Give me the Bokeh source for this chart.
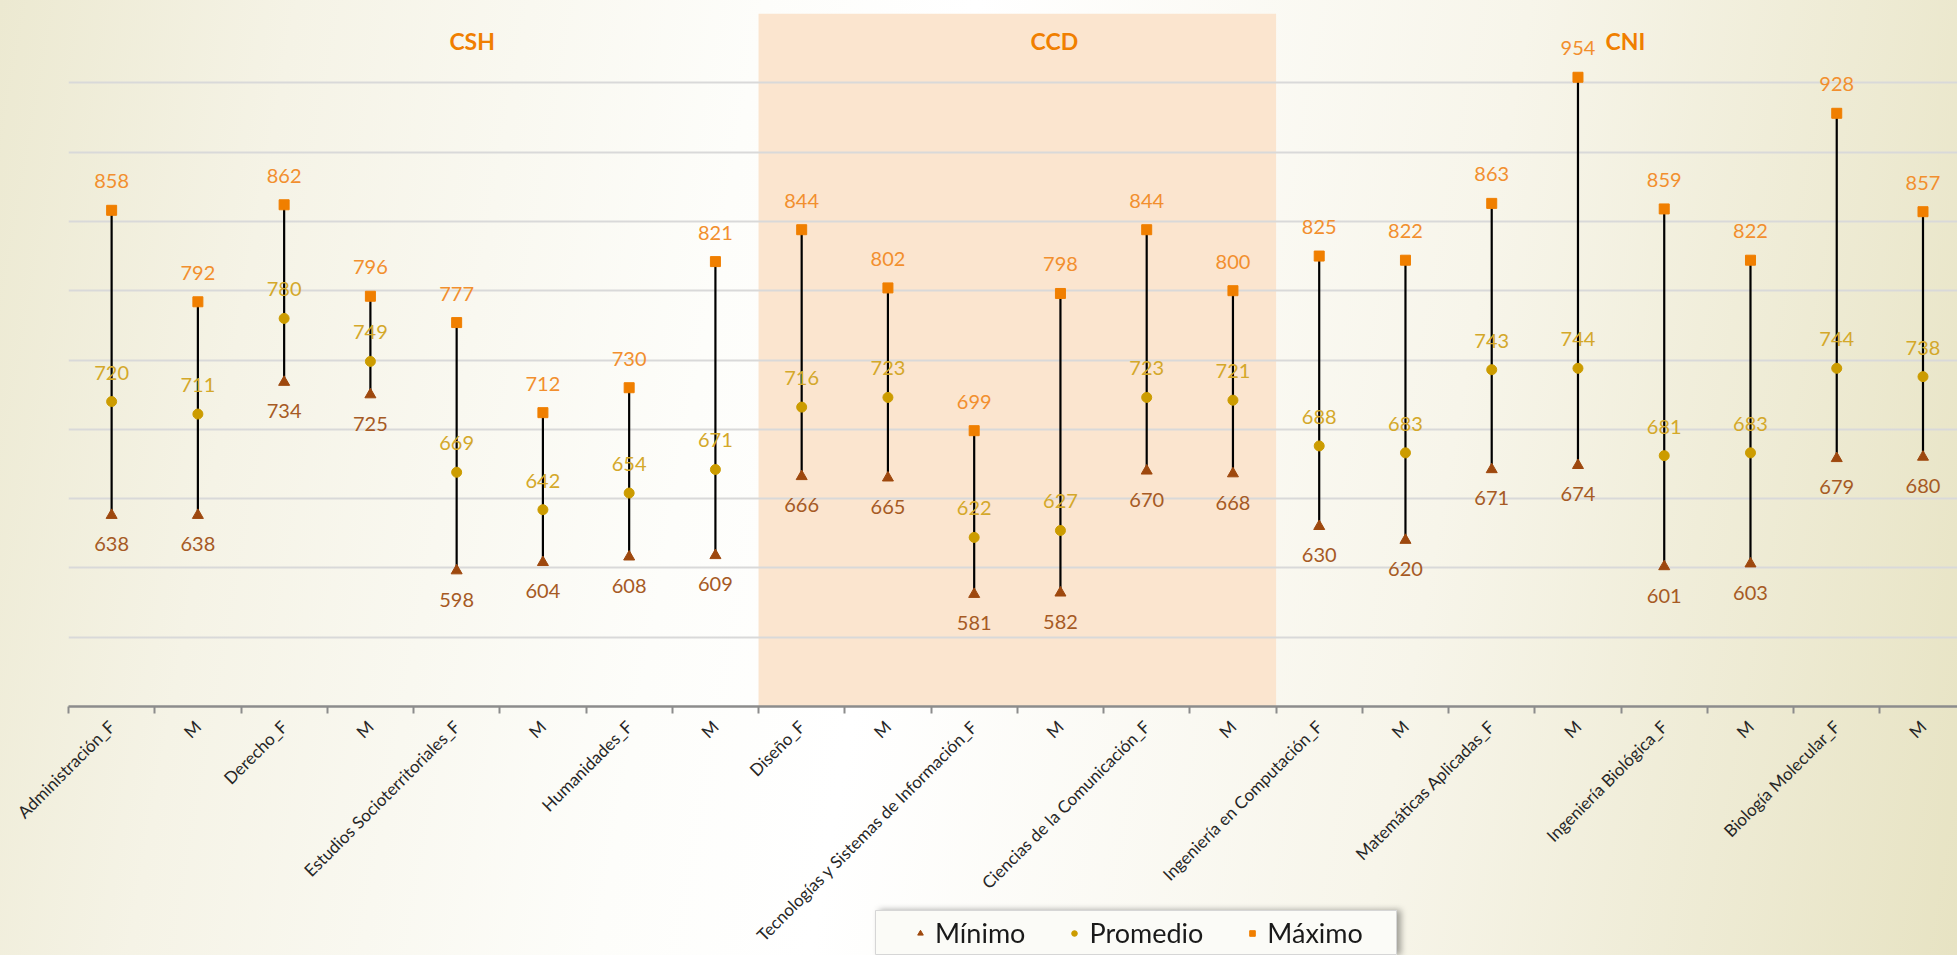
import math
from bokeh.plotting import figure
from bokeh.layouts import column
from bokeh.models import Range1d, FixedTicker, Legend, LegendItem, Label
from bokeh.core.properties import value
from bokeh.embed import file_html
from bokeh.resources import INLINE

# ---------------- data ----------------
categories = [
    "Administración_F", "M", "Derecho_F", "M", "Estudios Socioterritoriales_F", "M",
    "Humanidades_F", "M", "Diseño_F", "M", "Tecnologías y Sistemas de Información_F", "M",
    "Ciencias de la Comunicación_F", "M", "Ingeniería en Computación_F", "M",
    "Matemáticas Aplicadas_F", "M", "Ingeniería Biológica_F", "M", "Biología Molecular_F", "M",
]
minimo = [638, 638, 734, 725, 598, 604, 608, 609, 666, 665, 581, 582, 670, 668, 630, 620, 671, 674, 601, 603, 679, 680]
promedio = [720, 711, 780, 749, 669, 642, 654, 671, 716, 723, 622, 627, 723, 721, 688, 683, 743, 744, 681, 683, 744, 738]
maximo = [858, 792, 862, 796, 777, 712, 730, 821, 844, 802, 699, 798, 844, 800, 825, 822, 863, 954, 859, 822, 928, 857]
groups = ["CSH", "CCD", "CNI"]
group_sizes = [8, 6, 8]
shaded_group = "CCD"
y_ticks = list(range(500, 1001, 50))
series_names = ["Mínimo", "Promedio", "Máximo"]

# ---------------- styles ----------------
FONT = "Lato"
C_MIN, C_MIN_T = "#9E480E", "#A65A24"
C_AVG, C_AVG_T = "#CC9C00", "#D4A82A"
C_MAX, C_MAX_T = "#F07F00", "#F28F2E"
BAND = "#FBE5CF"
W, H = 1957, 955
LEFT = 68          # left border of the main plot frame

x = list(range(len(categories)))

p = figure(width=W, height=H,
           x_range=Range1d(-0.5, 21.40), y_range=Range1d(500, 1000),
           output_backend="svg", toolbar_location=None,
           y_axis_location=None,
           min_border_left=LEFT, min_border_right=0, min_border_top=13, min_border_bottom=H - 713)
p.background_fill_color = None
p.border_fill_color = None
p.outline_line_color = None
p.styles = {"background": "linear-gradient(100deg, #ECE9D1 0%, #F5F3E6 14%, #FDFDFA 36%, #FFFFFF 46%, #F7F5EA 72%, #E7E3C3 100%)"}

# grid
p.xgrid.visible = False
p.ygrid.ticker = FixedTicker(ticks=y_ticks)
p.ygrid.grid_line_color = "#D9D9D9"
p.ygrid.grid_line_width = 2

# shaded band for the CCD group
gi = groups.index(shaded_group)
b_start = sum(group_sizes[:gi]) - 0.5
b_end = b_start + group_sizes[gi]
p.quad(left=[b_start], right=[b_end], bottom=[y_ticks[0]], top=[y_ticks[-1]],
       fill_color=BAND, line_color=None, level="image")

# range lines and markers
p.segment(x0=x, y0=minimo, x1=x, y1=maximo, line_color="black", line_width=2.2)
p.scatter(x, minimo, marker="triangle", size=11, fill_color=C_MIN, line_color=C_MIN)
p.scatter(x, promedio, marker="circle", size=10, fill_color=C_AVG, line_color=C_AVG)
p.scatter(x, maximo, marker="square", size=10, fill_color=C_MAX, line_color=C_MAX)

common = dict(text_align="center", text_baseline="middle", text_font=value(FONT),
              text_font_size="20px")
p.text(x, maximo, text=[str(v) for v in maximo], y_offset=-29, text_color=C_MAX_T, **common)
p.text(x, promedio, text=[str(v) for v in promedio], y_offset=-29, text_color=C_AVG_T, **common)
p.text(x, minimo, text=[str(v) for v in minimo], y_offset=29, text_color=C_MIN_T, **common)

# group titles
title_nudge = [0.68, 0.43, 0.05]
start = 0
for g, n, dx in zip(groups, group_sizes, title_nudge):
    cx = start + n / 2 - 0.5 + dx
    p.add_layout(Label(x=cx, y=980, text=g, text_align="center", text_baseline="middle",
                       text_font=FONT, text_font_size="23px", text_font_style="bold",
                       text_color=C_MAX))
    start += n

# x axis: labels at category centres, ticks at category boundaries
ax = p.xaxis[0]
ax.ticker = FixedTicker(ticks=x, minor_ticks=[i - 0.5 for i in range(len(categories) + 1)])
ax.major_label_overrides = {i: c for i, c in zip(x, categories)}
ax.major_label_orientation = math.pi / 4
ax.major_label_text_font = FONT
ax.major_label_text_font_size = "17px"
ax.major_label_text_color = "#262626"
ax.major_label_standoff = 10
ax.major_tick_out = 0
ax.major_tick_in = 0
ax.minor_tick_out = 7
ax.minor_tick_in = 0
ax.minor_tick_line_color = "#8C8C8C"
ax.minor_tick_line_width = 2
ax.axis_line_color = "#8C8C8C"
ax.axis_line_width = 2.5

# ---------------- legend (separate small figure laid over the bottom) ----------------
# the column aligns the frames of its plots, so the legend figure's frame also starts
# LEFT px into it; its left border is left transparent.
BOX_X, BOX_W, LH = 875, 522, 45
lf = figure(width=BOX_W + LEFT, height=LH, x_range=Range1d(0, 1), y_range=Range1d(0, 1),
            output_backend="svg", toolbar_location=None,
            x_axis_location=None, y_axis_location=None,
            min_border_left=LEFT, min_border_right=0, min_border_top=0, min_border_bottom=0)
lf.xgrid.visible = False
lf.ygrid.visible = False
lf.background_fill_color = "#FBFBF7"
lf.border_fill_color = None
lf.outline_line_color = "#D6D6D6"
lf.margin = (-LH, 0, 0, BOX_X - LEFT)
lf.styles = {"filter": "drop-shadow(4px 0px 3px rgba(0,0,0,0.35))"}
rl_min = lf.scatter([-5], [-5], marker="triangle", size=11, fill_color=C_MIN, line_color=C_MIN)
rl_avg = lf.scatter([-5], [-5], marker="circle", size=10, fill_color=C_AVG, line_color=C_AVG)
rl_max = lf.scatter([-5], [-5], marker="square", size=10, fill_color=C_MAX, line_color=C_MAX)
legend = Legend(items=[LegendItem(label=series_names[0], renderers=[rl_min]),
                       LegendItem(label=series_names[1], renderers=[rl_avg]),
                       LegendItem(label=series_names[2], renderers=[rl_max])],
                orientation="horizontal", location=(38, 6), margin=0,
                label_text_font=FONT, label_text_font_size="27px", label_text_color="#1A1A1A",
                glyph_width=14, glyph_height=14, label_standoff=8, spacing=42, padding=0,
                background_fill_alpha=0, border_line_color=None)
lf.add_layout(legend)

root = column(p, lf, spacing=0)
open("out.html", "w").write(file_html(root, INLINE))
